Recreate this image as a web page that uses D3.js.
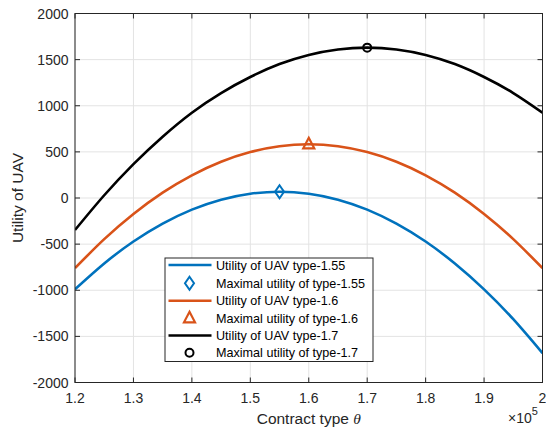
<!DOCTYPE html>
<html><head><meta charset="utf-8">
<script src="https://cdn.jsdelivr.net/npm/d3@7"></script>
<style>body{margin:0;background:#fff}text{font-family:"Liberation Sans",Arial,Helvetica,sans-serif}</style>
</head><body><svg id="c" width="546" height="429"></svg>
<script>
const theta = [1.2,1.25,1.3,1.35,1.4,1.45,1.5,1.55,1.6,1.65,1.7,1.75,1.8,1.85,1.9,1.95,2.0];
const util155 = [-990,-710,-472,-278,-126,-18,46,68,46,-18,-126,-278,-472,-710,-990,-1314,-1682];
const util16  = [-760,-446,-173,58,246,393,498,561,582,561,498,393,246,58,-173,-446,-760];
const util17  = [-347,30,368,665,925,1138,1312,1452,1551,1610,1630,1610,1551,1452,1312,1138,925];
const optTheta = [1.55,1.6,1.7];
const optUtil = [68,582,1630];
const seriesNames = ["Utility of UAV type-1.55","Utility of UAV type-1.6","Utility of UAV type-1.7"];
const markerNames = ["Maximal utility of type-1.55","Maximal utility of type-1.6","Maximal utility of type-1.7"];
const xTicks = [1.2,1.3,1.4,1.5,1.6,1.7,1.8,1.9,2.0];
const xTickLabels = ["1.2","1.3","1.4","1.5","1.6","1.7","1.8","1.9","2"];
const yTicks = [-2000,-1500,-1000,-500,0,500,1000,1500,2000];
const colors = ["#0072BD","#D95319","#000000"];

const svg = d3.select("#c");
const L=75, R=542.5, T=13.5, B=382.5;
const x = d3.scaleLinear().domain([1.2,2.0]).range([L,R]);
const y = d3.scaleLinear().domain([-2000,2000]).range([B,T]);
const axisCol="#262626", gridCol="#e3e3e3";

// grid
const g = svg.append("g");
g.selectAll(".gx").data(xTicks).join("line").attr("x1",d=>x(d)).attr("x2",d=>x(d)).attr("y1",T).attr("y2",B).attr("stroke",gridCol).attr("stroke-width",1);
g.selectAll(".gy").data(yTicks).join("line").attr("y1",d=>y(d)).attr("y2",d=>y(d)).attr("x1",L).attr("x2",R).attr("stroke",gridCol).attr("stroke-width",1);

// curves
const data=[util155,util16,util17];
const line = d3.line().x((d,i)=>x(theta[i])).y(d=>y(d)).curve(d3.curveNatural);
svg.append("clipPath").attr("id","cp").append("rect").attr("x",L).attr("y",T).attr("width",R-L).attr("height",B-T);
data.forEach((s,k)=>{
  svg.append("path").attr("d",line(s)).attr("fill","none").attr("stroke",colors[k]).attr("stroke-width",2.6).attr("clip-path","url(#cp)");
});

// markers
function marker(sel,k,cx,cy){
  if(k===0){
    sel.append("path").attr("d",`M${cx},${cy-6.5} L${cx+4.5},${cy} L${cx},${cy+6.5} L${cx-4.5},${cy} Z`).attr("fill","none").attr("stroke",colors[0]).attr("stroke-width",2);
  } else if(k===1){
    sel.append("path").attr("d",`M${cx},${cy-6.5} L${cx+5.5},${cy+4} L${cx-5.5},${cy+4} Z`).attr("fill","none").attr("stroke",colors[1]).attr("stroke-width",2.2);
  } else {
    sel.append("circle").attr("cx",cx).attr("cy",cy).attr("r",4).attr("fill","none").attr("stroke",colors[2]).attr("stroke-width",2);
  }
}
optTheta.forEach((t,k)=>marker(svg,k,x(t),y(optUtil[k])));

// axes box
const ax = svg.append("g");
ax.append("rect").attr("x",L).attr("y",T).attr("width",R-L).attr("height",B-T).attr("fill","none").attr("stroke",axisCol).attr("stroke-width",1);
const tl=5;
xTicks.forEach(t=>{
  ax.append("line").attr("x1",x(t)).attr("x2",x(t)).attr("y1",B).attr("y2",B-tl).attr("stroke",axisCol);
  ax.append("line").attr("x1",x(t)).attr("x2",x(t)).attr("y1",T).attr("y2",T+tl).attr("stroke",axisCol);
});
yTicks.forEach(t=>{
  ax.append("line").attr("y1",y(t)).attr("y2",y(t)).attr("x1",L).attr("x2",L+tl).attr("stroke",axisCol);
  ax.append("line").attr("y1",y(t)).attr("y2",y(t)).attr("x1",R).attr("x2",R-tl).attr("stroke",axisCol);
});
ax.selectAll(".xl").data(xTicks).join("text").attr("x",d=>x(d)).attr("y",403).attr("text-anchor","middle").attr("font-size",14).attr("fill",axisCol).text((d,i)=>xTickLabels[i]);
ax.selectAll(".yl").data(yTicks).join("text").attr("x",68.5).attr("y",d=>y(d)+5).attr("text-anchor","end").attr("font-size",14).attr("fill",axisCol).text(d=>d);

// axis labels
const xl = svg.append("text").attr("x",(L+R)/2).attr("y",424).attr("text-anchor","middle").attr("font-size",15.5).attr("fill",axisCol);
xl.append("tspan").text("Contract type ");
xl.append("tspan").attr("font-family","'Liberation Serif','Times New Roman',serif").attr("font-style","italic").text("θ");
svg.append("text").attr("transform",`translate(23,${(T+B)/2}) rotate(-90)`).attr("text-anchor","middle").attr("font-size",15.5).attr("fill",axisCol).text("Utility of UAV");
const ex = svg.append("text").attr("x",508).attr("y",423).attr("font-size",14).attr("fill",axisCol);
ex.append("tspan").text("×10");
ex.append("tspan").attr("dy",-8).attr("font-size",11).text("5");

// legend
const lg = svg.append("g");
lg.append("rect").attr("x",165).attr("y",258).attr("width",208).attr("height",103.5).attr("fill","#fff").attr("stroke",axisCol).attr("stroke-width",1);
const rowY=[265,283.3,300.7,318.3,335.5,352.7];
for(let k=0;k<3;k++){
  const yl=rowY[2*k], ym=rowY[2*k+1];
  lg.append("line").attr("x1",168.5).attr("x2",211.5).attr("y1",yl).attr("y2",yl).attr("stroke",colors[k]).attr("stroke-width",2.6);
  lg.append("text").attr("x",216).attr("y",yl+4.5).attr("font-size",12.6).attr("fill","#000").text(seriesNames[k]);
  marker(lg,k,189.5,ym);
  lg.append("text").attr("x",216).attr("y",ym+4.5).attr("font-size",12.6).attr("fill","#000").text(markerNames[k]);
}
</script></body></html>
